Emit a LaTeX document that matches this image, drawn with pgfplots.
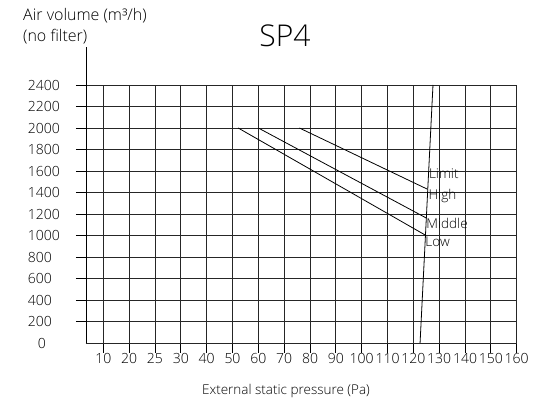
\documentclass[border=0pt]{standalone}
\usepackage{fontspec}
\IfFontExistsTF{Open Sans Light}
  {\setmainfont{Open Sans Light}}
  {\setmainfont{Open Sans}}
\usepackage{pgfplots}
\pgfplotsset{compat=1.18}
\begin{document}
\begin{tikzpicture}
\useasboundingbox (-86pt,-63pt) rectangle (456pt,343pt);
\begin{axis}[
  at={(0,0)}, anchor=south west,
  scale only axis, width=430.7pt, height=258pt,
  xmin=-0.67, xmax=16, ymin=0, ymax=2400,
  axis x line=bottom, axis y line=left,
  axis line style={-, line width=0.8pt, black},
  clip=false,
  xtick={0,...,16},
  xticklabels={10,20,25,30,40,50,60,70,80,90,100,110,120,130,140,150,160},
  ytick={200,400,...,2400},
  extra y ticks={0},
  extra y tick style={major tick length=0pt},
  tick align=outside, major tick length=10pt,
  tick style={black, line width=0.8pt},
  grid=major,
  major grid style={black!85, line width=0.8pt},
  /pgf/number format/assume math mode=true,
  /pgf/number format/1000 sep={},
  ticklabel style={font=\fontsize{14}{16}\selectfont},
  yticklabel style={text width=48pt, align=left, inner sep=0pt},
  xticklabel style={inner sep=0pt},
]
% fan curves (x = category index, y = air volume)
\addplot[black, line width=0.8pt] coordinates {(5.22,2000) (12.49,1000)};
\addplot[black, line width=0.8pt] coordinates {(6.00,2000) (12.52,1160)};
\addplot[black, line width=0.8pt] coordinates {(7.59,2000) (12.55,1430)};
% limit line
\addplot[black, line width=0.8pt] coordinates {(12.26,0) (12.76,2400)};

\begin{scope}[every node/.style={inner sep=0pt, anchor=base west, font=\fontsize{13.5}{15}\selectfont}]
\node at (axis cs:12.60,1532) {Limit};
\node at (axis cs:12.58,1337) {High};
\node at (axis cs:12.50,1067) {Middle};
\node at (axis cs:12.46,902) {Low};
\end{scope}
\end{axis}
\draw[line width=0.8pt] (0,258pt) -- (0,296pt);
\node[inner sep=0pt, anchor=base west, font=\fontsize{16}{18}\selectfont] at (-63pt,322.3pt) {Air volume (m³/h)};
\node[inner sep=0pt, anchor=base west, font=\fontsize{16}{18}\selectfont] at (-63pt,301.3pt) {(no filter)};
\node[inner sep=0pt, anchor=base, font=\fontsize{30}{32}\selectfont] at (199pt,296.3pt) {SP4};
\node[inner sep=0pt, anchor=base, font=\fontsize{13.5}{15}\selectfont] at (200pt,-52pt) {External static pressure (Pa)};
\end{tikzpicture}
\end{document}
